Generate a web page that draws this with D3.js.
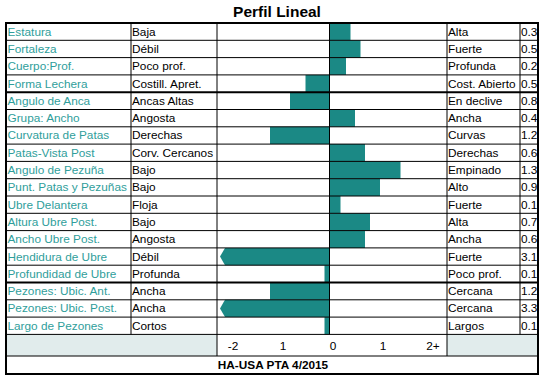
<!DOCTYPE html>
<html>
<head>
<meta charset="utf-8">
<script src="https://cdn.jsdelivr.net/npm/d3@7"></script>
<style>
  body { margin: 0; background: #fff; }
  text { font-family: "Liberation Sans", Arial, sans-serif; font-size: 11.8px; }
</style>
</head>
<body>
<div id="chart"></div>
<script>
/* Perfil Lineal - linear profile table w/ bars */

// data
const rasgos = ["Estatura", "Fortaleza", "Cuerpo:Prof.", "Forma Lechera", "Angulo de Anca",
  "Grupa: Ancho", "Curvatura de Patas", "Patas-Vista Post", "Angulo de Pezuña",
  "Punt. Patas y Pezuñas", "Ubre Delantera", "Altura Ubre Post.", "Ancho Ubre Post.",
  "Hendidura de Ubre", "Profundidad de Ubre", "Pezones: Ubic. Ant.", "Pezones: Ubic. Post.",
  "Largo de Pezones"];
const extremoIzq = ["Baja", "Débil", "Poco prof.", "Costill. Apret.", "Ancas Altas", "Angosta",
  "Derechas", "Corv. Cercanos", "Bajo", "Bajo", "Floja", "Bajo", "Angosta", "Débil", "Profunda",
  "Ancha", "Ancha", "Cortos"];
const extremoDer = ["Alta", "Fuerte", "Profunda", "Cost. Abierto", "En declive", "Ancha", "Curvas",
  "Derechas", "Empinado", "Alto", "Fuerte", "Alta", "Ancha", "Fuerte", "Poco prof.", "Cercana",
  "Cercana", "Largos"];
const valores = ["0.3", "0.5", "0.2", "0.5", "0.8", "0.4", "1.2", "0.6", "1.3", "0.9", "0.1", "0.7",
  "0.6", "3.1", "0.1", "1.2", "3.3", "0.1"];
// bar lengths as drawn (signed)
const barras = [0.42, 0.62, 0.33, -0.48, -0.79, 0.51, -1.19, 0.71, 1.42, 1.01, 0.22, 0.81, 0.71,
  -3.1, -0.1, -1.19, -3.3, -0.1];
const ticks = [-2, -1, 0, 1, 2];
const tickLabels = ["-2", "1", "0", "1", "2+"];
const titulo = "Perfil Lineal";
const pie = "HA-USA PTA 4/2015";

const width = 554, height = 386;
const cols = [6, 131, 217, 447, 520, 538]; // column edges
const tableTop = 23, rowsBottom = 334.4, axisBottom = 356, footBottom = 374;
const teal = "#1b8985", labelTeal = "#2f9e9b", shade = "#e1ecec";

const svg = d3.select("#chart")
  .append("svg")
  .attr("width", width)
  .attr("height", height);

let y = d3.scaleBand()
  .domain(rasgos)
  .range([tableTop, rowsBottom]);

let x = d3.scaleLinear()
  .domain([-2.25, 2.35])
  .range([cols[2], cols[3]]);

const minX = -2.19; // bars past this get the arrow tip

svg.append("text")
  .attr("x", 277).attr("y", 17)
  .attr("text-anchor", "middle")
  .style("font-weight", "bold").style("font-size", "15.5px")
  .text(titulo);

// shaded cells in axis row
svg.append("rect").attr("x", cols[0]).attr("y", rowsBottom)
  .attr("width", cols[2] - cols[0]).attr("height", axisBottom - rowsBottom).attr("fill", shade);
svg.append("rect").attr("x", cols[3]).attr("y", rowsBottom)
  .attr("width", cols[5] - cols[3]).attr("height", axisBottom - rowsBottom).attr("fill", shade);

// bars
const bw = y.bandwidth();
svg.append("g")
  .selectAll("path")
  .data(barras)
  .join("path")
  .attr("fill", teal)
  .attr("d", (v, i) => {
    const t = y(rasgos[i]), b = t + bw, x0 = x(0);
    if (v >= 0) return `M${x0},${t}H${x(v)}V${b}H${x0}Z`;
    if (v >= minX) return `M${x(v)},${t}H${x0}V${b}H${x(v)}Z`;
    const xl = x(minX);
    return `M${x0},${t}H${xl + 5}L${xl},${t + bw / 2}L${xl + 5},${b}H${x0}Z`;
  });

// grid lines
const grid = svg.append("g").attr("stroke", "#000");
rasgos.forEach((r, i) => {
  if (i === 0) return;
  grid.append("line")
    .attr("x1", cols[0]).attr("x2", cols[5])
    .attr("y1", y(r)).attr("y2", y(r))
    .attr("stroke-width", (i === 4 || i === 15) ? 2 : 1);
});
grid.append("line").attr("x1", cols[0]).attr("x2", cols[5])
  .attr("y1", rowsBottom).attr("y2", rowsBottom).attr("stroke-width", 1);
grid.append("line").attr("x1", cols[0]).attr("x2", cols[5])
  .attr("y1", axisBottom).attr("y2", axisBottom).attr("stroke-width", 1);
[1, 2, 3, 4].forEach(c => {
  grid.append("line").attr("x1", cols[c]).attr("x2", cols[c])
    .attr("y1", tableTop).attr("y2", rowsBottom).attr("stroke-width", 1);
});
grid.append("line").attr("x1", cols[2]).attr("x2", cols[2])
  .attr("y1", rowsBottom).attr("y2", axisBottom);
grid.append("line").attr("x1", cols[3]).attr("x2", cols[3])
  .attr("y1", rowsBottom).attr("y2", axisBottom);
// zero line
grid.append("line").attr("x1", x(0)).attr("x2", x(0))
  .attr("y1", tableTop).attr("y2", rowsBottom).attr("stroke-width", 1);
// outer border
svg.append("rect")
  .attr("x", cols[0]).attr("y", tableTop)
  .attr("width", cols[5] - cols[0]).attr("height", footBottom - tableTop)
  .attr("fill", "none").attr("stroke", "#000").attr("stroke-width", 2);

// row texts
const ty = r => y(r) + bw / 2 + 4;
svg.append("g").selectAll("text").data(rasgos).join("text")
  .attr("x", cols[0] + 1.5).attr("y", ty)
  .attr("fill", labelTeal)
  .text(d => d);
svg.append("g").selectAll("text").data(extremoIzq).join("text")
  .attr("x", cols[1] + 1).attr("y", (d, i) => ty(rasgos[i]))
  .text(d => d);
svg.append("g").selectAll("text").data(extremoDer).join("text")
  .attr("x", cols[3] + 1).attr("y", (d, i) => ty(rasgos[i]))
  .text(d => d);
svg.append("g").selectAll("text").data(valores).join("text")
  .attr("x", cols[4] + 1).attr("y", (d, i) => ty(rasgos[i]))
  .text(d => d);

// axis labels
svg.append("g").selectAll("text").data(ticks).join("text")
  .attr("x", d => x(d) + 3.5)
  .attr("y", 349.5)
  .attr("text-anchor", "middle")
  .text((d, i) => tickLabels[i]);

svg.append("text")
  .attr("x", 273).attr("y", 369)
  .attr("text-anchor", "middle")
  .style("font-weight", "bold")
  .text(pie);
</script>
</body>
</html>
